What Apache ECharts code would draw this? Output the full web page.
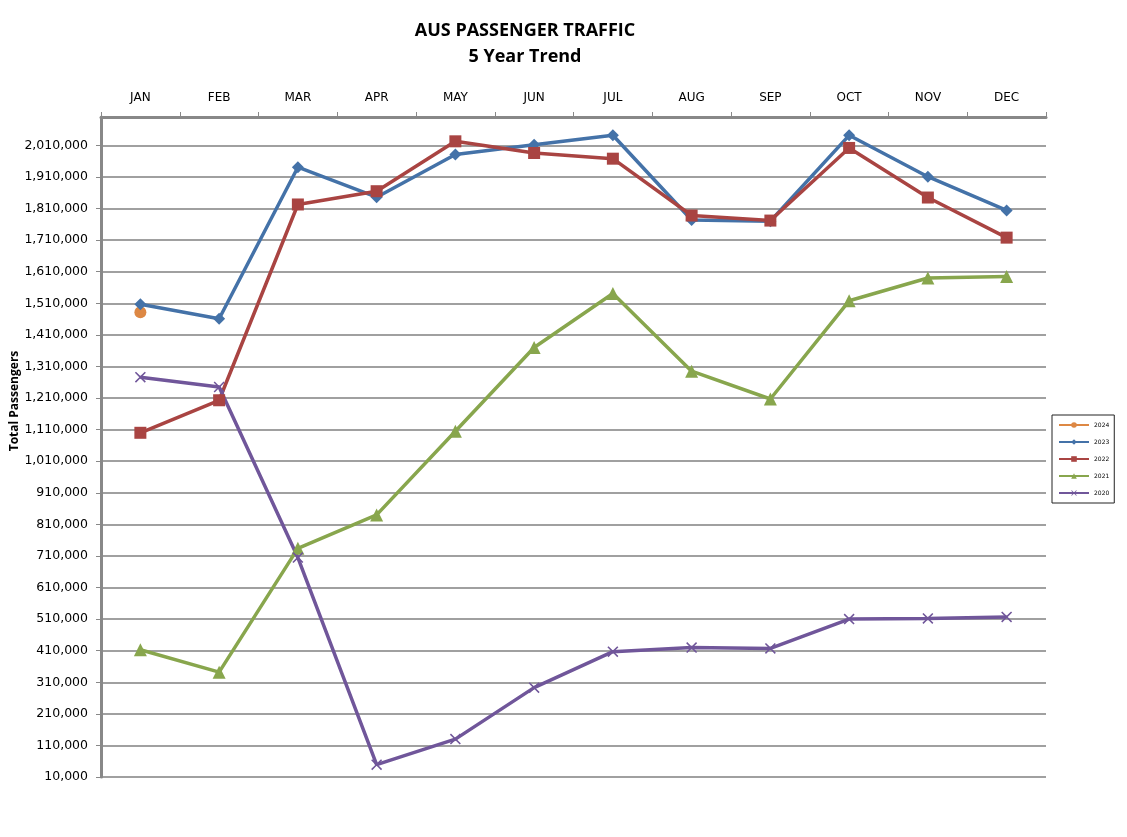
<!DOCTYPE html>
<html>
<head>
<meta charset="utf-8">
<script src="https://cdn.jsdelivr.net/npm/echarts@6/dist/echarts.min.js"></script>
<style>
  html, body { margin: 0; padding: 0; background: #fff; }
  #chart { width: 1127px; height: 837px; }
</style>
</head>
<body>
<div id="chart"></div>
<script>
// 月份
var months = ['JAN', 'FEB', 'MAR', 'APR', 'MAY', 'JUN', 'JUL', 'AUG', 'SEP', 'OCT', 'NOV', 'DEC'];

// 各年旅客量
var pax_2024 = [1482000, null, null, null, null, null, null, null, null, null, null, null];
var pax_2023 = [1507000, 1461000, 1941000, 1846000, 1981000, 2012000, 2042000, 1774000, 1770000, 2042000, 1911000, 1804000];
var pax_2022 = [1100000, 1203000, 1823000, 1865000, 2023000, 1986000, 1968000, 1788000, 1772000, 2002000, 1845000, 1718000];
var pax_2021 = [413000, 342000, 734000, 840000, 1105000, 1370000, 1541000, 1295000, 1207000, 1518000, 1590000, 1595000];
var pax_2020 = [1276000, 1245000, 705000, 49000, 130000, 293000, 407000, 420000, 417000, 510000, 512000, 517000];

var years = ['2024', '2023', '2022', '2021', '2020'];
var yearData = [pax_2024, pax_2023, pax_2022, pax_2021, pax_2020];
var colors = ['#dd8844', '#4472a8', '#a94442', '#88a64d', '#70569a'];
var symbols = [
    'circle',
    'diamond',
    'rect',
    'triangle',
    'path://M0,1L1,0L5,4L9,0L10,1L6,5L10,9L9,10L5,6L1,10L0,9L4,5Z'
];
var symbolSizes = [12, 12, 12, 13, 11];

var series = [];
for (var i = 0; i < years.length; i++) {
    series.push({
        name: years[i],
        type: 'line',
        data: yearData[i],
        symbol: symbols[i],
        symbolSize: symbolSizes[i],
        showAllSymbol: true,
        connectNulls: false,
        lineStyle: { width: 3.5, color: colors[i] },
        itemStyle: { color: colors[i] },
        animation: false
    });
}

var option = {
    color: colors,
    title: {
        text: 'AUS PASSENGER TRAFFIC\n5 Year Trend',
        left: 520,
        top: 13,
        textAlign: 'center',
        textStyle: {
            fontFamily: 'Open Sans',
            fontWeight: 'bold',
            fontSize: 18,
            lineHeight: 26,
            color: '#000'
        }
    },
    // y轴标题，Excel里不是居中的
    graphic: [{
        type: 'text',
        x: 15,
        y: 401,
        rotation: Math.PI / 2,
        style: {
            text: 'Total Passengers',
            align: 'center',
            verticalAlign: 'middle',
            fontFamily: 'Open Sans',
            fontWeight: 'bold',
            fontSize: 12,
            fill: '#000'
        }
    }],
    legend: {
        orient: 'vertical',
        left: 1052,
        top: 415,
        padding: [7, 5, 7, 6],
        itemWidth: 30,
        itemHeight: 7,
        itemGap: 11,
        borderColor: '#222',
        borderWidth: 1,
        backgroundColor: '#fff',
        textStyle: { fontSize: 6, color: '#000', fontFamily: 'DejaVu Sans' },
        data: years
    },
    grid: {
        left: 101,
        right: 81,
        top: 117,
        bottom: 60,
        outerBoundsMode: 'none'
    },
    xAxis: {
        type: 'category',
        position: 'top',
        data: months,
        boundaryGap: true,
        axisLine: { lineStyle: { color: '#888', width: 3 } },
        axisTick: { show: true, length: 5, lineStyle: { color: '#888', width: 1 } },
        axisLabel: { color: '#000', fontSize: 12, fontFamily: 'DejaVu Sans', margin: 13 },
        splitLine: { show: false }
    },
    yAxis: {
        type: 'value',
        min: 10000,
        max: 2100000,
        interval: 100000,
        axisLine: { show: true, lineStyle: { color: '#888', width: 3 } },
        axisTick: { show: true, length: 5, lineStyle: { color: '#888', width: 1 } },
        axisLabel: {
            color: '#000',
            fontSize: 12.5,
            fontFamily: 'DejaVu Sans',
            margin: 13,
            showMaxLabel: false,
            formatter: function (v) {
                return v.toString().replace(/\B(?=(\d{3})+(?!\d))/g, ',');
            }
        },
        splitLine: { show: true, lineStyle: { color: '#a0a0a0', width: 2 } }
    },
    series: series
};

var chart = echarts.init(document.getElementById('chart'));
chart.setOption(option);
</script>
</body>
</html>
